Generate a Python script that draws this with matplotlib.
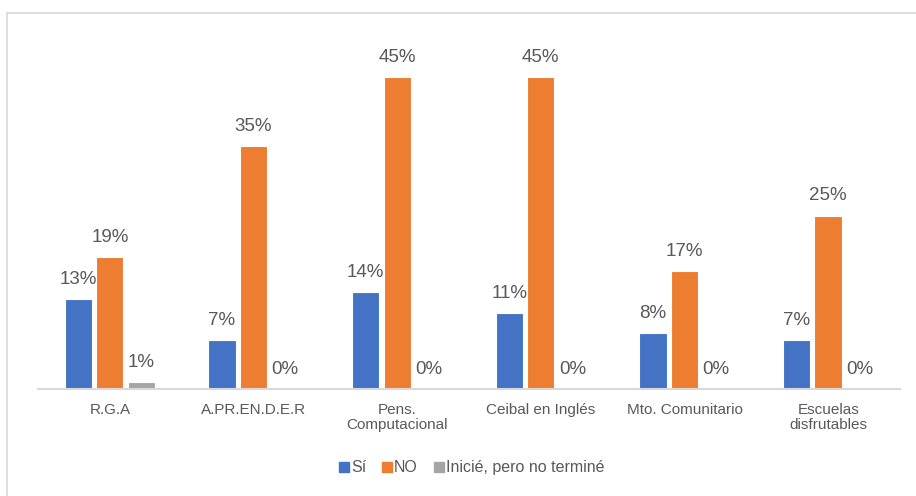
import matplotlib.pyplot as plt
import numpy as np
from matplotlib.lines import Line2D

plt.rcParams['font.family'] = ['Liberation Sans', 'DejaVu Sans']

categories = ["R.G.A", "A.PR.EN.D.E.R", "Pens.\nComputacional",
              "Ceibal en Inglés", "Mto. Comunitario", "Escuelas\ndisfrutables"]
series_names = ["Sí", "NO", "Inicié, pero no terminé"]
si_values = [13, 7, 14, 11, 8, 7]
no_values = [19, 35, 45, 45, 17, 25]
inicie_values = [1, 0, 0, 0, 0, 0]
colors = ["#4472C4", "#ED7D31", "#A5A5A5"]
text_color = "#595959"

fig = plt.figure(figsize=(9.16, 4.96), dpi=100)
ax = fig.add_axes([0.0415, 0.2157, 0.941, 0.6996])

x = np.arange(len(categories))
width = 0.19
offsets = [-0.22, 0.0, 0.22]

for vals, off, col, name in zip([si_values, no_values, inicie_values],
                                offsets, colors, series_names):
    bars = ax.bar(x + off, vals, width, color=col, edgecolor="white",
                  linewidth=0.8, label=name)
    for b, v in zip(bars, vals):
        ax.annotate(f"{v}%", (b.get_x() + b.get_width() / 2, v),
                    xytext=(0, 8), textcoords="offset points",
                    ha="center", va="bottom", fontsize=13.5, color=text_color)

ax.set_xlim(-0.5, len(categories) - 0.5)
ax.set_ylim(0, 50)
ax.set_xticks(x)
ax.set_xticklabels(categories, fontsize=11, color=text_color, linespacing=1.1)
ax.tick_params(axis="x", length=0, pad=10)
ax.set_yticks([])
for side in ["top", "right", "left"]:
    ax.spines[side].set_visible(False)
ax.spines["bottom"].set_color("#D9D9D9")
ax.spines["bottom"].set_linewidth(1.5)

handles = [plt.Rectangle((0, 0), 1, 1, color=c) for c in colors]
fig.legend(handles, series_names, loc="center", bbox_to_anchor=(0.515, 0.057),
           ncol=3, frameon=False, fontsize=11.5, labelcolor=text_color,
           handlelength=0.6, handleheight=0.6, handletextpad=0.15,
           columnspacing=1.0)

# outer chart frame (top and left edges)
fig.add_artist(Line2D([7 / 916, 1], [1 - 13 / 496] * 2, color="#D9D9D9",
                      linewidth=1.2, transform=fig.transFigure))
fig.add_artist(Line2D([7 / 916] * 2, [0, 1 - 13 / 496], color="#D9D9D9",
                      linewidth=1.2, transform=fig.transFigure))

fig.savefig("out.png", dpi=100, facecolor="white")
